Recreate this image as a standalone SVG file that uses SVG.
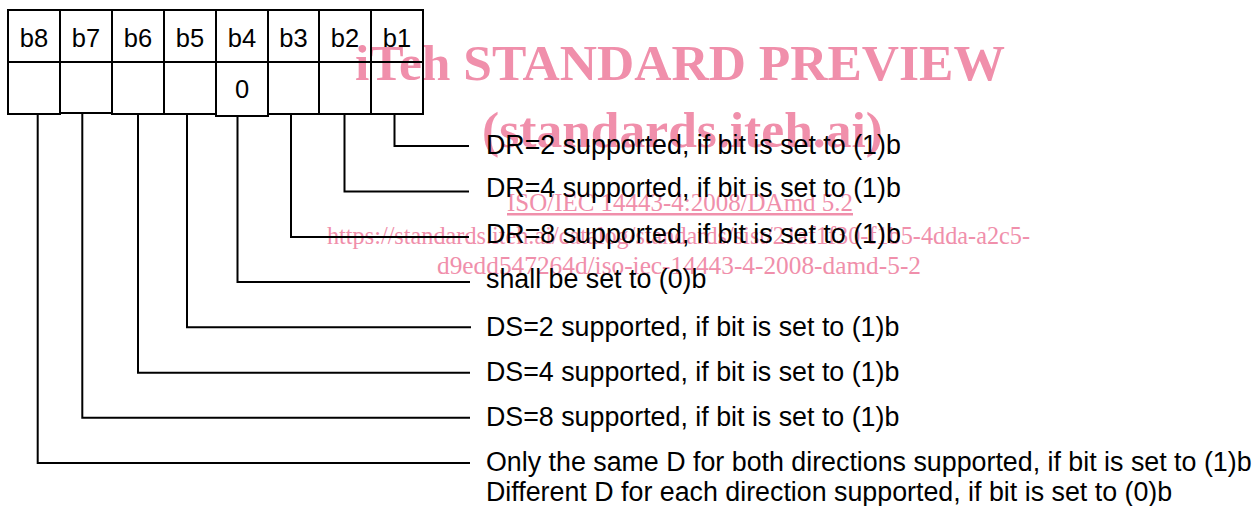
<svg xmlns="http://www.w3.org/2000/svg" width="1260" height="506" viewBox="0 0 1260 506">
<style>
.cell{fill:none;stroke:#000;stroke-width:2}
.lbl{font-family:"Liberation Sans",Arial,sans-serif;font-size:25.5px;fill:#000;text-anchor:middle}
.txt{font-family:"Liberation Sans",Arial,sans-serif;font-size:26.8px;fill:#000}
.con{fill:none;stroke:#000;stroke-width:2}
.wm{font-family:"Liberation Serif","Times New Roman",serif;fill:#F08FAB}
.wmb{font-weight:bold;font-size:50px}
.wms{font-size:25px}
</style>
<rect width="1260" height="506" fill="#fff"/>
<g id="watermark">
<text class="wm wmb" x="355" y="80" textLength="650" lengthAdjust="spacingAndGlyphs">iTeh STANDARD PREVIEW</text>
<text class="wm wmb" x="482" y="147" textLength="401" lengthAdjust="spacingAndGlyphs">(standards.iteh.ai)</text>
<text class="wm wms" x="507" y="211" textLength="346" lengthAdjust="spacingAndGlyphs" text-decoration="underline">ISO/IEC 14443-4:2008/DAmd 5.2</text>
<text class="wm wms" x="327" y="244" textLength="703" lengthAdjust="spacingAndGlyphs">https://standards.iteh.ai/catalog/standards/sist/21af1f30-f1b5-4dda-a2c5-</text>
<text class="wm wms" x="437" y="274" textLength="484" lengthAdjust="spacingAndGlyphs">d9edd547264d/iso-iec-14443-4-2008-damd-5-2</text>
</g>
<g id="bit-b8"><rect class="cell" x="8" y="10" width="52" height="52"/><rect class="cell" x="8" y="62" width="52" height="52"/><text class="lbl" x="34" y="47">b8</text></g>
<g id="bit-b7"><rect class="cell" x="60" y="10" width="52" height="52"/><rect class="cell" x="60" y="62" width="52" height="51"/><text class="lbl" x="86" y="47">b7</text></g>
<g id="bit-b6"><rect class="cell" x="112" y="10" width="52" height="52"/><rect class="cell" x="112" y="62" width="52" height="52"/><text class="lbl" x="138" y="47">b6</text></g>
<g id="bit-b5"><rect class="cell" x="164" y="10" width="52" height="52"/><rect class="cell" x="164" y="62" width="52" height="52"/><text class="lbl" x="190" y="47">b5</text></g>
<g id="bit-b4"><rect class="cell" x="216" y="10" width="52" height="52"/><rect class="cell" x="216" y="62" width="52" height="54"/><text class="lbl" x="242" y="47">b4</text><text class="lbl" x="242" y="98">0</text></g>
<g id="bit-b3"><rect class="cell" x="268" y="10" width="51" height="52"/><rect class="cell" x="268" y="62" width="51" height="52"/><text class="lbl" x="293.5" y="47">b3</text></g>
<g id="bit-b2"><rect class="cell" x="319" y="10" width="52" height="52"/><rect class="cell" x="319" y="62" width="52" height="52"/><text class="lbl" x="345" y="47">b2</text></g>
<g id="bit-b1"><rect class="cell" x="371" y="10" width="52" height="52"/><rect class="cell" x="371" y="62" width="52" height="52"/><text class="lbl" x="397" y="47">b1</text></g>
<g id="connectors">
<polyline class="con" points="394.5,114 394.5,146 469,146"/>
<polyline class="con" points="344.5,114 344.5,191.5 469,191.5"/>
<polyline class="con" points="291,114 291,237 469,237"/>
<polyline class="con" points="237.5,116 237.5,282 470,282"/>
<polyline class="con" points="187,114 187,327.3 471,327.3"/>
<polyline class="con" points="138,114 138,372.7 470,372.7"/>
<polyline class="con" points="82.3,113 82.3,417.7 470,417.7"/>
<polyline class="con" points="37.7,114 37.7,463 470,463"/>
</g>
<g id="desc-b1"><text class="txt" x="486" y="154">DR=2 supported, if bit is set to (1)b</text></g>
<g id="desc-b2"><text class="txt" x="486" y="197">DR=4 supported, if bit is set to (1)b</text></g>
<g id="desc-b3"><text class="txt" x="486" y="243">DR=8 supported, if bit is set to (1)b</text></g>
<g id="desc-b4"><text class="txt" x="486" y="288">shall be set to (0)b</text></g>
<g id="desc-b5"><text class="txt" x="486" y="336">DS=2 supported, if bit is set to (1)b</text></g>
<g id="desc-b6"><text class="txt" x="486" y="381">DS=4 supported, if bit is set to (1)b</text></g>
<g id="desc-b7"><text class="txt" x="486" y="426">DS=8 supported, if bit is set to (1)b</text></g>
<g id="desc-b8"><text class="txt" x="486" y="471">Only the same D for both directions supported, if bit is set to (1)b</text><text class="txt" x="486" y="501">Different D for each direction supported, if bit is set to (0)b</text></g>
</svg>
